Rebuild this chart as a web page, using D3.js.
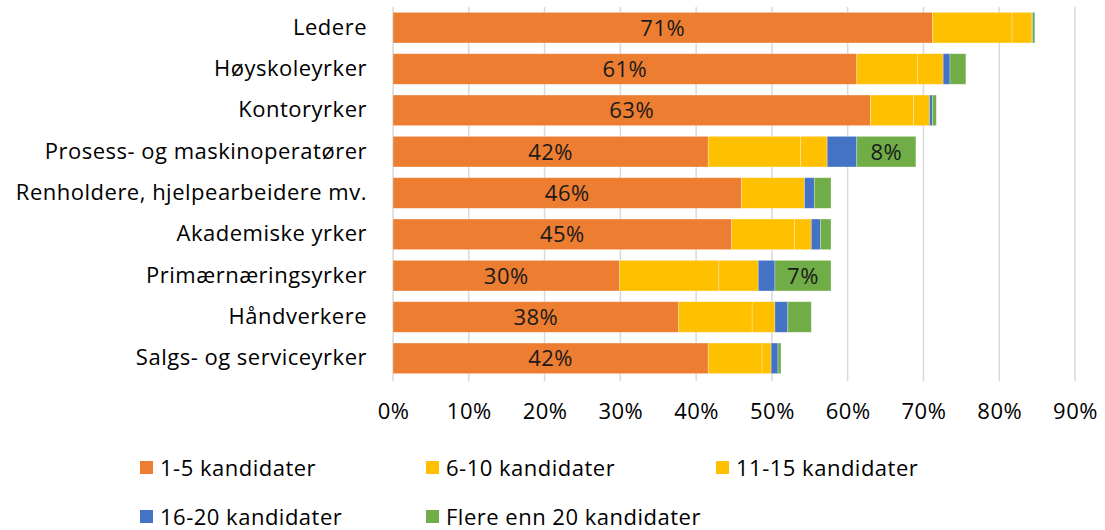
<!DOCTYPE html>
<html><head><meta charset="utf-8">
<script src="https://cdn.jsdelivr.net/npm/d3@7"></script>
<style>
html,body{margin:0;padding:0;background:#fff;}
text{font-family:"Open Sans",Lato,sans-serif;fill:#000;}
</style></head>
<body><svg id="c" width="1105" height="530"></svg>
<script>
const categories = ["Ledere","Høyskoleyrker","Kontoryrker","Prosess- og maskinoperatører","Renholdere, hjelpearbeidere mv.","Akademiske yrker","Primærnæringsyrker","Håndverkere","Salgs- og serviceyrker"];
const seriesNames = ["1-5 kandidater","6-10 kandidater","11-15 kandidater","16-20 kandidater","Flere enn 20 kandidater"];
const seriesColors = ["#ED7D31","#FFC000","#FFC000","#4472C4","#70AD47"];
const s1_5   = [71.2, 61.2, 63.0, 41.6, 46.0, 44.7, 29.9, 37.7, 41.6];
const s6_10  = [10.5,  8.0,  5.7, 12.2,  8.3,  8.3, 13.1,  9.7,  7.1];
const s11_15 = [ 2.6,  3.4,  2.1,  3.5,  0.0,  2.2,  5.2,  3.0,  1.2];
const s16_20 = [ 0.1,  0.9,  0.4,  3.9,  1.3,  1.2,  2.2,  1.7,  0.9];
const s20p   = [ 0.3,  2.1,  0.5,  7.8,  2.2,  1.4,  7.4,  3.1,  0.4];
const tickValues = [0,10,20,30,40,50,60,70,80,90];

const FS = "22px", LS = "0.5px";
const seriesVals = [s1_5, s6_10, s11_15, s16_20, s20p];
const rows = categories.map((c,i)=>{const o={cat:c}; seriesNames.forEach((s,j)=>o[s]=seriesVals[j][i]); return o;});
const stack = d3.stack().keys(seriesNames)(rows);

const svg = d3.select("#c");
const x = d3.scaleLinear().domain([0,90]).range([393,1075]);
const y = d3.scaleBand().domain(categories).range([7,379]).paddingInner(0.26).paddingOuter(0.13);

svg.append("g").selectAll("line").data(tickValues).join("line")
  .attr("x1",d=>x(d)).attr("x2",d=>x(d)).attr("y1",7).attr("y2",381)
  .attr("stroke","#d9d9d9").attr("stroke-width",1.5);

const g = svg.append("g");
stack.forEach((layer,j)=>{
  g.append("g").selectAll("rect").data(layer).join("rect")
    .attr("x",d=>x(d[0])).attr("width",d=>Math.max(0,x(d[1])-x(d[0])))
    .attr("y",d=>y(d.data.cat)).attr("height",y.bandwidth())
    .attr("fill",seriesColors[j])
    .attr("stroke","#ffffff").attr("stroke-opacity",0.35).attr("stroke-width",0.8);
});

stack.forEach((layer,j)=>{
  const show = d => j===0 || (j===4 && (d[1]-d[0])>=5);
  g.append("g").selectAll("text").data(layer.filter(show)).join("text")
    .attr("x",d=>(x(d[0])+x(d[1]))/2)
    .attr("y",d=>y(d.data.cat)+y.bandwidth()/2)
    .attr("dy","0.36em").attr("text-anchor","middle")
    .style("font-size",FS).style("letter-spacing",LS).style("fill","#1a1a1a")
    .text(d=>Math.round(d[1]-d[0])+"%");
});

const ya = svg.append("g").attr("transform","translate(393,0)")
  .call(d3.axisLeft(y).tickSize(0).tickPadding(26));
ya.select(".domain").remove();
ya.selectAll("text").style("font-size",FS).style("letter-spacing",LS).style("font-family","'Open Sans',Lato,sans-serif").style("fill","#000");

const xa = svg.append("g").attr("transform","translate(0,381)")
  .call(d3.axisBottom(x).tickValues(tickValues).tickSize(0).tickPadding(22).tickFormat(d=>d+"%"));
xa.select(".domain").remove();
xa.selectAll("text").style("font-size",FS).style("letter-spacing",LS).style("font-family","'Open Sans',Lato,sans-serif").style("fill","#000");

const legendPos = [[140,468],[426,468],[716,468],[140,517],[426,517]];
const lg = svg.append("g");
seriesNames.forEach((s,i)=>{
  const [lx,ly] = legendPos[i];
  lg.append("rect").attr("x",lx).attr("y",ly-7).attr("width",13).attr("height",13).attr("fill",seriesColors[i]);
  lg.append("text").attr("x",lx+20).attr("y",ly).attr("dy","0.36em").style("font-size",FS).style("letter-spacing",LS).text(s);
});
</script></body></html>
